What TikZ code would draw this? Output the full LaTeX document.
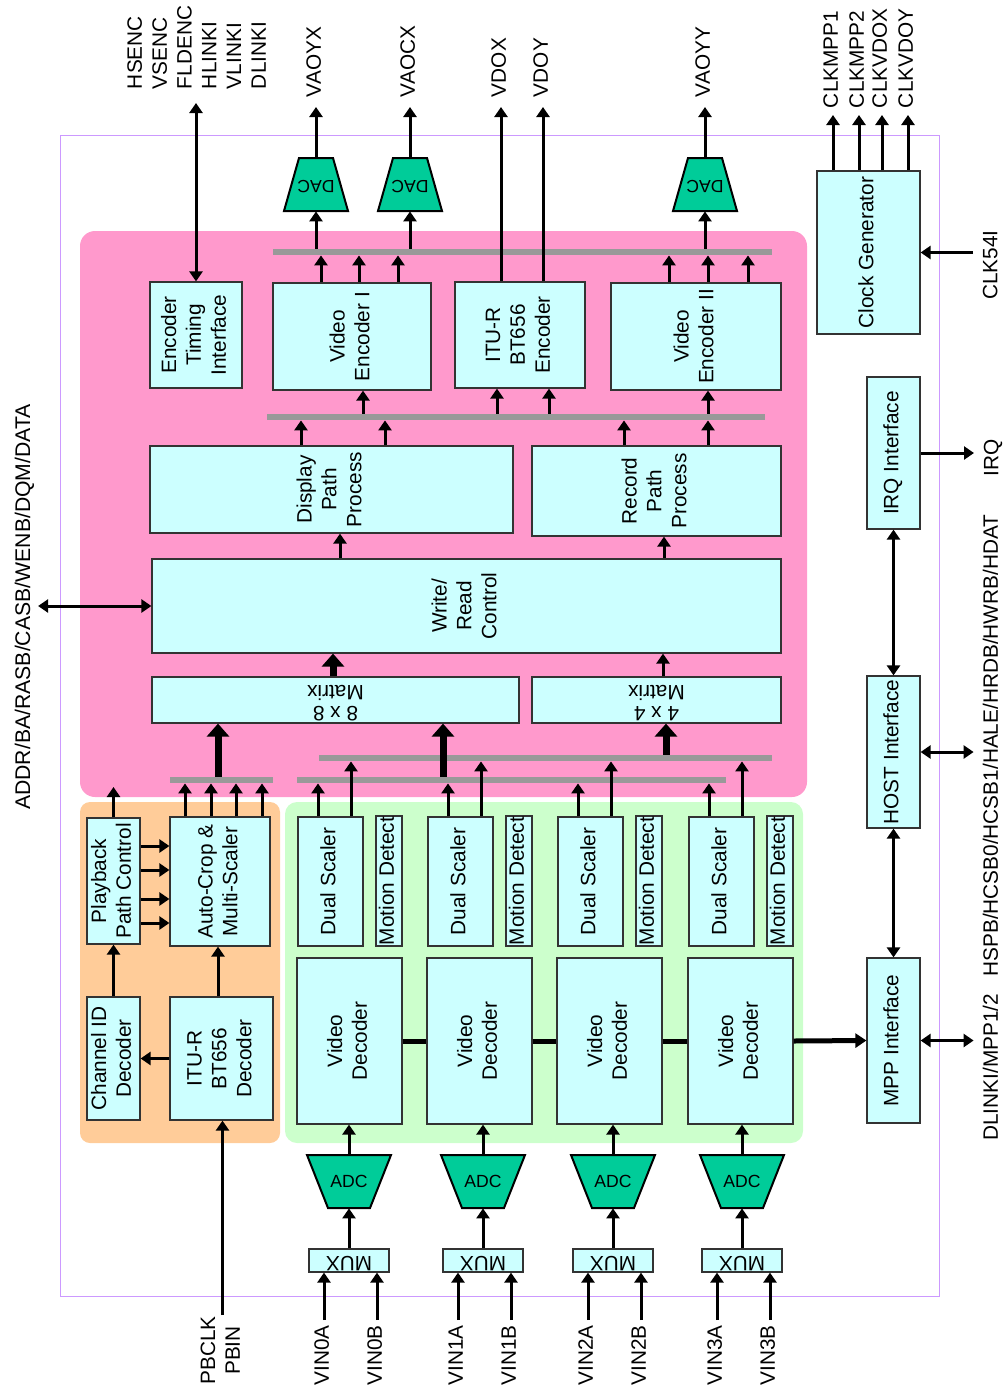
\documentclass[tikz,border=0pt]{standalone}
\usepackage{fontspec}
\setmainfont{Liberation Sans}
\usepackage{graphicx}
\usetikzlibrary{arrows.meta,fit}

\definecolor{rose}{HTML}{FF99CC}
\definecolor{peche}{HTML}{FFCC99}
\definecolor{vertclair}{HTML}{CCFFCC}
\definecolor{cyanclair}{HTML}{CCFFFF}
\definecolor{vertconv}{HTML}{00CC99}
\definecolor{grisbus}{HTML}{999999}
\definecolor{lilas}{HTML}{CC99FF}

% textes tournes
\newcommand{\txtv}[1]{\rotatebox{90}{\begin{tabular}{@{}c@{}}#1\end{tabular}}}
\newcommand{\txtl}[1]{\rotatebox{90}{\begin{tabular}{@{}l@{}}#1\end{tabular}}}
\newcommand{\txtu}[1]{\rotatebox{180}{\def\arraystretch{0.8}\begin{tabular}{@{}c@{}}#1\end{tabular}}}

\begin{document}
\begin{tikzpicture}[
    x=0.5pt, y=-0.5pt,
    font=\fontsize{10.4}{12.4}\selectfont,
    bloc/.style={draw=black!80, fill=cyanclair, line width=0.6pt, inner sep=0pt},
    texte/.style={label={center:#1}},
    bus/.style={fill=grisbus, inner xsep=0pt, inner ysep=1.5pt},
    conv/.style={inner sep=0pt, minimum height=26.5pt, font=\fontsize{8.8}{10}\selectfont},
    broche/.style={inner xsep=0pt, inner ysep=2.5pt},
    fleche/.style={line width=1.5pt, -{Triangle[length=5pt,width=6.5pt]}},
    dfleche/.style={line width=1.5pt, {Triangle[length=5pt,width=6.5pt]}-{Triangle[length=5pt,width=6.5pt]}},
    gros/.style={line width=3.5pt, -{Triangle[length=6.5pt,width=11pt]}},
    lien/.style={line width=2.5pt}
  ]
  \useasboundingbox (0,0) rectangle (1005,1387);
  % fonds
  \draw[lilas, line width=0.5pt] (60,135) rectangle (939,1296);
  \fill[rose, rounded corners=7.5pt] (80,231) rectangle (807,797);
  \fill[peche, rounded corners=5pt] (80,802) rectangle (280,1143);
  \fill[vertclair, rounded corners=6pt] (285,802) rectangle (803,1143);
  % bus
  \node[bus, fit={(273,252) (772,252)}] (bus1) {};
  \node[bus, fit={(267,417) (765,417)}] (bus2) {};
  \node[bus, fit={(170,780) (273,780)}] (bus3) {};
  \node[bus, fit={(297,780) (726,780)}] (bus4) {};
  \node[bus, fit={(319,758) (772,758)}] (bus5) {};
  % blocs
  \node[bloc, fit={(150,282) (242,388)}, texte={\txtv{Encoder\\Timing\\Interface}}] (eti) {};
  \node[bloc, fit={(273,283) (431,390)}, texte={\txtv{Video\\Encoder I}}] (venc1) {};
  \node[bloc, fit={(455,282) (585,388)}, texte={\txtv{ITU-R\\BT656\\Encoder}}] (ituenc) {};
  \node[bloc, fit={(611,283) (781,390)}, texte={\txtv{Video\\Encoder II}}] (venc2) {};
  \node[bloc, fit={(150,446) (513,533)}, texte={\txtv{Display\\Path\\Process}}] (disp) {};
  \node[bloc, fit={(532,446) (781,536)}, texte={\txtv{Record\\Path\\Process}}] (rec) {};
  \node[bloc, fit={(152,559) (781,653)}, texte={\txtv{Write/\\Read\\Control}}] (wrctl) {};
  \node[bloc, fit={(152,677) (519,723)}, texte={\txtu{8 x 8\\Matrix}}] (mat8) {};
  \node[bloc, fit={(532,677) (781,723)}, texte={\txtu{4 x 4\\Matrix}}] (mat4) {};
  \node[bloc, fit={(87,818) (140,944)}, texte={\txtv{Playback\\Path Control}}] (pbctl) {};
  \node[bloc, fit={(170,817) (270,946)}, texte={\txtv{Auto-Crop \&\\Multi-Scaler}}] (acrop) {};
  \node[bloc, fit={(87,997) (140,1120)}, texte={\txtv{Channel ID\\Decoder}}] (chid) {};
  \node[bloc, fit={(170,997) (273,1120)}, texte={\txtv{ITU-R\\BT656\\Decoder}}] (itudec) {};
  \node[bloc, fit={(817,171) (920,334)}, texte={\txtv{Clock Generator}}] (clkgen) {};
  \node[bloc, fit={(867,377) (920,529)}, texte={\txtv{IRQ Interface}}] (irqif) {};
  \node[bloc, fit={(867,676) (920,828)}, texte={\txtv{HOST Interface}}] (hostif) {};
  \node[bloc, fit={(867,958) (920,1123)}, texte={\txtv{MPP Interface}}] (mppif) {};
  % sorties video
  \node[broche, anchor=south, outer ysep=4.5pt] (enclab) at (199,103) {\txtl{HSENC\\VSENC\\FLDENC\\HLINKI\\VLINKI\\DLINKI}};
  \draw[dfleche] (eti.north) -- (eti.north |- enclab.south);
  \foreach \i/\x/\s in {1/316/VAOYX, 2/410/VAOCX, 3/705/VAOYY} {
    \filldraw[fill=vertconv, line width=1pt] ({\x-32},211) -- ({\x+32},211) -- ({\x+17},158) -- ({\x-17},158) -- cycle;
    \node[conv, minimum width=32pt] (dac\i) at (\x,184.5) {\txtu{DAC}};
    \node[broche, anchor=south, outer ysep=2.5pt] (sdac\i) at (\x,107) {\txtv{\s}};
    \draw[fleche] (bus1.north -| dac\i) -- (dac\i.south);
    \draw[fleche] (dac\i.north) -- (sdac\i.south);
  }
  \node[broche, anchor=south, outer ysep=2.5pt] (vdox) at (501,107) {\txtv{VDOX}};
  \node[broche, anchor=south, outer ysep=2.5pt] (vdoy) at (543,107) {\txtv{VDOY}};
  \draw[fleche] (ituenc.north -| vdox) -- (vdox.south);
  \draw[fleche] (ituenc.north -| vdoy) -- (vdoy.south);
  \foreach \x in {321,359,398} \draw[fleche] (venc1.north -| \x,0) -- (bus1.south -| \x,0);
  \foreach \x in {669,708,748} \draw[fleche] (venc2.north -| \x,0) -- (bus1.south -| \x,0);
  % chemin interne
  \draw[fleche] (bus2.north -| 363,0) -- (venc1.south -| 363,0);
  \draw[fleche] (bus2.north -| 497,0) -- (ituenc.south -| 497,0);
  \draw[fleche] (bus2.north -| 549,0) -- (ituenc.south -| 549,0);
  \draw[fleche] (bus2.north -| 708,0) -- (venc2.south -| 708,0);
  \foreach \x in {301,385} \draw[fleche] (disp.north -| \x,0) -- (bus2.south -| \x,0);
  \foreach \x in {624,708} \draw[fleche] (rec.north -| \x,0) -- (bus2.south -| \x,0);
  \draw[fleche] (wrctl.north -| 340,0) -- (disp.south -| 340,0);
  \draw[fleche] (wrctl.north -| 664,0) -- (rec.south -| 664,0);
  \draw[gros] (mat8.north -| 333,0) -- (wrctl.south -| 333,0);
  \draw[fleche] (mat4.north -| 663,0) -- (wrctl.south -| 663,0);
  \draw[gros] (bus3.north -| 218,0) -- (mat8.south -| 218,0);
  \draw[gros] (bus4.north -| 443,0) -- (mat8.south -| 443,0);
  \draw[gros] (bus5.north -| 666,0) -- (mat4.south -| 666,0);
  % lecture
  \coordinate (pbsortie) at (113.5,787);
  \draw[fleche] (pbctl.north) -- (pbsortie);
  \draw[fleche] (chid.north) -- (pbctl.south);
  \draw[fleche] (itudec.north -| 218,0) -- (acrop.south -| 218,0);
  \draw[fleche] (itudec.west) -- (chid.east);
  \foreach \y in {846,870,899,923} \draw[fleche] (pbctl.east |- 0,\y) -- (acrop.west |- 0,\y);
  \foreach \x in {185,211,236,262} \draw[fleche] (acrop.north -| \x,0) -- (bus3.south -| \x,0);
  \node[broche, anchor=north, inner ysep=0.5pt] (pbclk) at (222.5,1315) {\txtv{PBCLK\\PBIN}};
  \draw[fleche] (pbclk.north) -- (pbclk.north |- itudec.south);
  % entrees video
  \foreach \i/\xs/\xa/\va/\vb in {0/298/349/VIN0A/VIN0B, 1/428/483/VIN1A/VIN1B, 2/558/613/VIN2A/VIN2B, 3/689/742/VIN3A/VIN3B} {
    \node[bloc, fit={(\xs,817) ({\xs+65},946)}, texte={\txtv{Dual Scaler}}] (ds\i) {};
    \node[bloc, fit={({\xs+78},816) ({\xs+104},946)}, texte={\txtv{Motion Detect}}] (md\i) {};
    \node[bloc, fit={({\xs-1},958) ({\xs+104},1124)}, texte={\txtv{Video\\Decoder}}] (vd\i) {};
    \filldraw[fill=vertconv, line width=1pt] ({\xa-42},1155) -- ({\xa+42},1155) -- ({\xa+21},1208) -- ({\xa-21},1208) -- cycle;
    \node[conv, minimum width=42pt] (adc\i) at (\xa,1181.5) {ADC};
    \node[bloc, fit={({\xa-40},1249) ({\xa+40},1272)}, texte={\txtu{MUX}}] (mux\i) {};
    \node[broche, anchor=north] (vina\i) at ({\xa-25},1320) {\txtv{\va}};
    \node[broche, anchor=north] (vinb\i) at ({\xa+28},1320) {\txtv{\vb}};
    \draw[fleche] (vina\i.north) -- (vina\i.north |- mux\i.south);
    \draw[fleche] (vinb\i.north) -- (vinb\i.north |- mux\i.south);
    \draw[fleche] (mux\i.north) -- (adc\i.south);
    \draw[fleche] (adc\i.north) -- (vd\i.south -| adc\i.north);
    \draw[fleche] (ds\i.north -| {\xs+20},0) -- (bus4.south -| {\xs+20},0);
    \draw[fleche] (ds\i.north -| {\xs+53},0) -- (bus5.south -| {\xs+53},0);
  }
  \foreach \i/\j in {0/1,1/2,2/3} \draw[lien] (vd\i.east) -- (vd\j.west);
  \draw[lien, -{Triangle[length=5.5pt,width=7pt]}] (vd3.east) -- (mppif.west);
  % horloges et interfaces
  \foreach \i/\x/\s in {1/833/CLKMPP1, 2/859/CLKMPP2, 3/882/CLKVDOX, 4/908/CLKVDOY} {
    \node[broche, anchor=south, outer ysep=1pt] (clk\i) at (\x,115) {\txtv{\s}};
    \draw[fleche] (clkgen.north -| clk\i) -- (clk\i.south);
  }
  \node[broche, anchor=west, outer xsep=3.5pt] (clk54) at (973,265) {\txtv{CLK54I}};
  \draw[fleche] (clk54.west |- clkgen.east) -- (clkgen.east);
  \node[broche, anchor=west, outer xsep=3.5pt] (irq) at (974,458) {\txtv{IRQ}};
  \draw[fleche] (irqif.east) -- (irq.west |- irqif.east);
  \node[broche, anchor=south, outer xsep=3.5pt] (hspb) at (993,982) {\txtv{HSPB/HCSB0/HCSB1/HALE/HRDB/HWRB/HDAT}};
  \node[broche, anchor=south, outer xsep=3.5pt] (dlinki) at (993,1146) {\txtv{DLINKI/MPP1/2}};
  \draw[dfleche] (hostif.east) -- (hspb.west |- hostif.east);
  \draw[dfleche] (mppif.east) -- (dlinki.west |- mppif.east);
  \draw[dfleche] (irqif.south) -- (hostif.north);
  \draw[dfleche] (hostif.south) -- (mppif.north);
  \node[broche, font=\fontsize{10.6}{12.7}\selectfont] (addr) at (25,607) {\txtv{ADDR/BA/RASB/CASB/WENB/DQM/DATA}};
  \draw[dfleche] (addr.east |- wrctl.west) -- (wrctl.west);
\end{tikzpicture}
\end{document}
